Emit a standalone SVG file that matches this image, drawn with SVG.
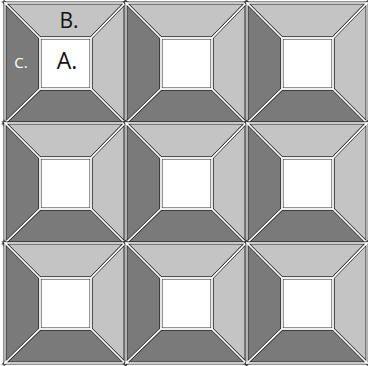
<svg xmlns="http://www.w3.org/2000/svg" width="368" height="366" viewBox="0 0 368 366">
<style>
.lt{fill:#c4c4c4}
.dk{fill:#7a7a7a}
.sq{fill:#ffffff}
.edge{stroke:#2a2a2a;stroke-width:3;stroke-linejoin:miter}
.hl{fill:none;stroke:#ffffff;stroke-width:1.3;stroke-linejoin:miter}
.lbl{font-family:"Open Sans","Liberation Sans",sans-serif}
</style>
<defs>
<g id="tile">
<polygon class="lt edge" points="0,0 120,0 86,35 35,35"/>
<polygon class="lt edge" points="120,0 120,120 86,86 86,35"/>
<polygon class="dk edge" points="0,120 120,120 86,86 35,86"/>
<polygon class="dk edge" points="0,0 35,35 35,86 0,120"/>
<rect class="sq edge" x="35" y="35" width="51" height="51"/>
<polygon class="hl" points="0,0 120,0 86,35 35,35"/>
<polygon class="hl" points="120,0 120,120 86,86 86,35"/>
<polygon class="hl" points="0,120 120,120 86,86 35,86"/>
<polygon class="hl" points="0,0 35,35 35,86 0,120"/>
<rect class="hl" x="35" y="35" width="51" height="51"/>
</g>
</defs>
<rect width="368" height="366" fill="#ffffff"/>
<g id="tile-1-1"><use href="#tile" x="5" y="3"/></g>
<g id="tile-1-2"><use href="#tile" x="126" y="3"/></g>
<g id="tile-1-3"><use href="#tile" x="247" y="3"/></g>
<g id="tile-2-1"><use href="#tile" x="5" y="123"/></g>
<g id="tile-2-2"><use href="#tile" x="126" y="123"/></g>
<g id="tile-2-3"><use href="#tile" x="247" y="123"/></g>
<g id="tile-3-1"><use href="#tile" x="5" y="243"/></g>
<g id="tile-3-2"><use href="#tile" x="126" y="243"/></g>
<g id="tile-3-3"><use href="#tile" x="247" y="243"/></g>
<g id="labels" class="lbl">
<text x="69" y="28" font-size="21" text-anchor="middle" fill="#111">B.</text>
<text x="67" y="69" font-size="23" text-anchor="middle" fill="#111">A.</text>
<text x="21" y="68" font-size="15" text-anchor="middle" fill="#ffffff">C.</text>
</g>
</svg>
